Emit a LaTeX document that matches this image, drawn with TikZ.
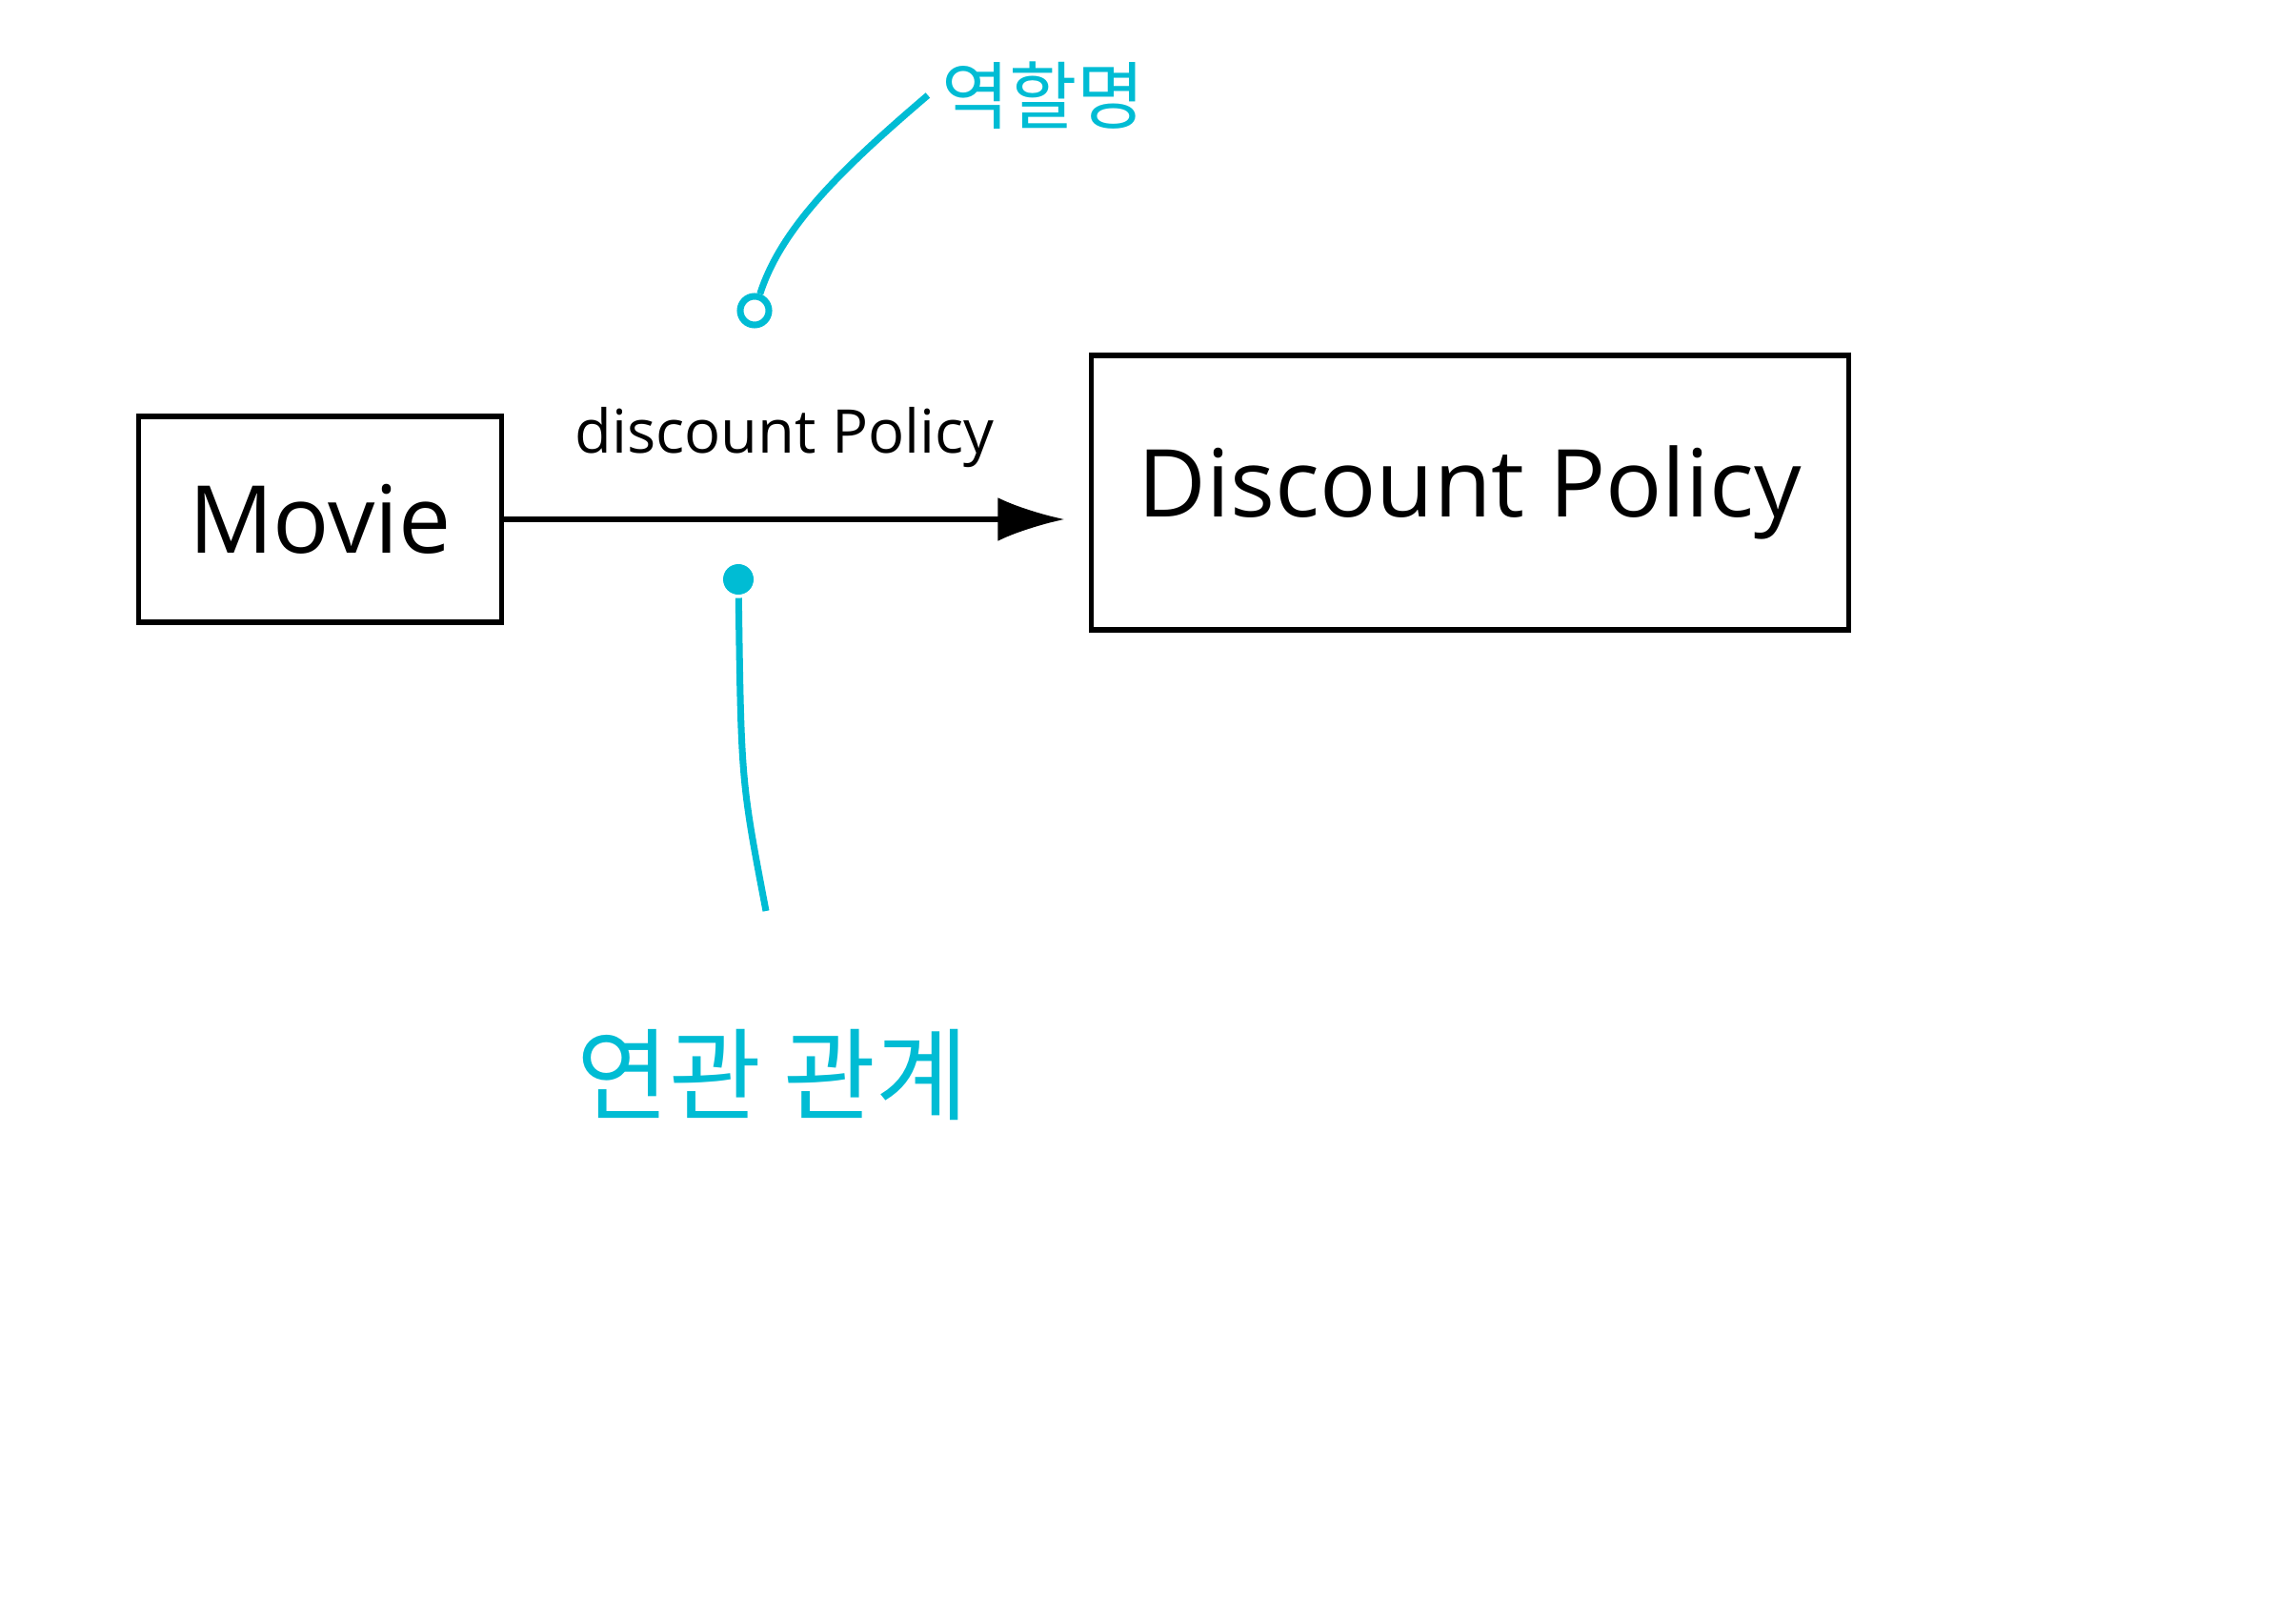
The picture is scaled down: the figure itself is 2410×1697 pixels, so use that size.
\documentclass[tikz,border=0pt]{standalone}
\usepackage{fontspec}
\setmainfont{Open Sans}
\newfontfamily\krfont{Noto Sans CJK KR}
\usetikzlibrary{arrows.meta,positioning}
\definecolor{pen}{RGB}{0,188,212}

\begin{document}
\begin{tikzpicture}[x=0.01cm, y=-0.01cm, line width=1.5pt,
    classbox/.style={draw, inner sep=0pt},
    hint/.style={pen, line width=2pt},
    hinttext/.style={pen, font=\krfont\fontsize{22}{26}\selectfont}]

\useasboundingbox (0,0) rectangle (2410,1697);

% Classes
\node[  classbox,
        minimum width=3.81cm, minimum height=2.16cm,
        font=\fontsize{28}{34}\selectfont
    ] (movie) at (336,545) {Movie};
\node[  classbox,
        minimum width=7.95cm, minimum height=2.88cm,
        font=\fontsize{28}{34}\selectfont
    ] (policy) at (1543,517) {Discount Policy};
% Association
\draw[-{Latex[length=20pt,width=13pt]}] (movie.east)
    -- node[above=0.4cm, font=\fontsize{18}{22}\selectfont] (rolename) {discount Policy}
    ([xshift=-0.25cm]movie.east -| policy.west);
% Notes
\node[hinttext] (roletext) at (1095,100) {역할명};
\node[hint, draw, circle, minimum size=0.3cm, inner sep=0pt] (rolemark) at (792,326) {};
\draw[hint] (roletext.west) .. controls (880,180) and (820,240) .. (rolemark);
\node[hint, fill, circle, minimum size=0.32cm, inner sep=0pt] (assocmark) at (775,608) {};
\coordinate (assocend) at (804,956);
\draw[hint] (assocmark) .. controls (778,820) .. (assocend);
\node[hinttext, font=\krfont\fontsize{30}{36}\selectfont] (assoctext) at (811,1128) {연관 관계};

\end{tikzpicture}
\end{document}
